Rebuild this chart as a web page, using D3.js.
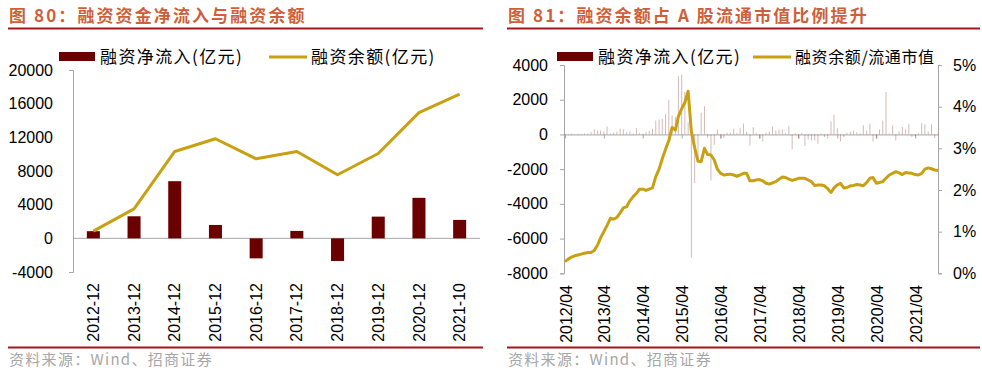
<!DOCTYPE html>
<html>
<head>
<meta charset="utf-8">
<script src="https://cdn.jsdelivr.net/npm/d3@7"></script>
<style>
  body { margin: 0; background: #fff; }
  text { font-family: "Liberation Sans", Arial, "Noto Sans CJK SC", sans-serif; }
  .cjk { font-family: "Noto Sans CJK SC", sans-serif; }
</style>
</head>
<body>
<div id="chart"></div>
<script>
// two panels side by side: annual net inflow vs balance, and monthly ratio to float cap
var width = 982,
    height = 372;

// ---- left panel data ----
var years = ["2012-12", "2013-12", "2014-12", "2015-12", "2016-12", "2017-12", "2018-12", "2019-12", "2020-12", "2021-10"];
var netInflow = [850, 2620, 6790, 1590, -2380, 880, -2690, 2580, 4810, 2190];
var balance = [850, 3500, 10320, 11830, 9450, 10320, 7550, 10080, 14930, 17140];
var leftTicks = [-4000, 0, 4000, 8000, 12000, 16000, 20000];

// ---- right panel data (monthly, 2012/04 .. 2021/11) ----
var monthStart = new Date(2012, 3, 1);
var monthlyInflow = [40, 30, 50, 20, 40, 30, 60, 50, 135, 290,
  230, 230, 170, 460, 60, 100, 170, 330, 290, 130,
  170, 60, 365, 80, 40, 130, 200, 320, 800, 860,
  900, 1190, 2000, 1100, 1000, 3350, 3450, 2450, 700, -7100,
  -2800, -1400, 1250, 1630, -200, -2650, -600, 290, -250, -210,
  100, 100, 330, 80, 365, 620, 150, -650, 420, 100,
  -250, -400, 100, 170, 460, 230, 290, 290, 80, 500,
  -860, 60, -250, 80, -670, -290, -350, -350, -540, 50,
  -150, -250, 750, 1130, 365, -400, -150, 100, 170, 230,
  135, 60, 520, 230, 620, -400, -250, 290, 800, 2440,
  60, 520, -350, 170, 420, 290, 620, -150, -100, 80,
  650, 580, 170, 580, -210, 60];
var ratio = [0.28, 0.34, 0.39, 0.42, 0.44, 0.46, 0.48, 0.50, 0.50, 0.55,
  0.68, 0.85, 1.00, 1.15, 1.32, 1.30, 1.34, 1.45, 1.57, 1.60,
  1.74, 1.84, 1.92, 2.02, 2.02, 1.99, 2.02, 2.05, 2.32, 2.50,
  2.75, 2.98, 3.18, 3.50, 3.44, 3.76, 3.95, 4.10, 4.37, 3.40,
  3.02, 2.69, 2.68, 3.00, 2.85, 2.84, 2.72, 2.50, 2.40, 2.36,
  2.37, 2.38, 2.36, 2.33, 2.36, 2.40, 2.40, 2.22, 2.22, 2.24,
  2.25, 2.22, 2.16, 2.14, 2.17, 2.20, 2.26, 2.31, 2.30, 2.26,
  2.23, 2.25, 2.28, 2.28, 2.28, 2.24, 2.20, 2.11, 2.12, 2.12,
  2.10, 2.03, 1.94, 2.05, 2.12, 2.16, 2.05, 2.06, 2.10, 2.11,
  2.13, 2.12, 2.10, 2.18, 2.28, 2.30, 2.16, 2.18, 2.20, 2.28,
  2.36, 2.40, 2.44, 2.41, 2.37, 2.42, 2.41, 2.40, 2.37, 2.36,
  2.40, 2.50, 2.53, 2.51, 2.48, 2.47];
var rightTicks = [-8000, -6000, -4000, -2000, 0, 2000, 4000];
var pctTicks = [0, 1, 2, 3, 4, 5];
var labelYears = [2012, 2013, 2014, 2015, 2016, 2017, 2018, 2019, 2020, 2021];

var months = monthlyInflow.map(function(d, i) { return d3.timeMonth.offset(monthStart, i); });

var barColor = "#6b0000",
    lineColor = "#c8a012",
    axisColor = "#a6a6a6",
    titleColor = "#cf5f3a",
    ruleColor = "#a3171c";

var svg = d3.select("#chart").append("svg")
    .attr("width", width)
    .attr("height", height);

// titles, rules and source lines shared by both panels
function frame(x0, x1, title) {
  svg.append("text")
      .attr("class", "cjk")
      .attr("x", x0 + 1)
      .attr("y", 22)
      .style("font-size", "17px")
      .style("font-weight", "bold")
      .style("letter-spacing", "2.1px")
      .attr("fill", titleColor)
      .text(title);
  svg.append("line")
      .attr("x1", x0).attr("x2", x1)
      .attr("y1", 28.5).attr("y2", 28.5)
      .attr("stroke", ruleColor).attr("stroke-width", 2);
  svg.append("line")
      .attr("x1", x0).attr("x2", x1)
      .attr("y1", 347.5).attr("y2", 347.5)
      .attr("stroke", ruleColor).attr("stroke-width", 2);
  svg.append("text")
      .attr("class", "cjk")
      .attr("x", x0 + 1)
      .attr("y", 365)
      .style("font-size", "15px")
      .style("letter-spacing", "1.3px")
      .attr("fill", "#a6a6a6")
      .text("资料来源：Wind、招商证券");
}

function legend(x, barLabel, lineX, lineLabel, lineSpacing) {
  svg.append("rect")
      .attr("x", x).attr("y", 52)
      .attr("width", 36).attr("height", 9)
      .attr("fill", barColor);
  svg.append("text")
      .attr("class", "cjk")
      .attr("x", x + 41).attr("y", 57)
      .attr("dy", "0.35em")
      .style("font-size", "17px")
      .style("letter-spacing", "1.4px")
      .text(barLabel);
  svg.append("line")
      .attr("x1", lineX).attr("x2", lineX + 38)
      .attr("y1", 57).attr("y2", 57)
      .attr("stroke", lineColor).attr("stroke-width", 3);
  svg.append("text")
      .attr("class", "cjk")
      .attr("x", lineX + 42).attr("y", 57)
      .attr("dy", "0.35em")
      .style("font-size", lineSpacing ? "16px" : "17px")
      .style("letter-spacing", (lineSpacing || 1.4) + "px")
      .text(lineLabel);
}

function styleAxis(g) {
  g.selectAll("path, line").attr("stroke", axisColor);
  g.selectAll("text").style("font-size", "16px").attr("fill", "#000");
}

// ================= left panel =================
frame(8, 483, "图 80：融资资金净流入与融资余额");
legend(59, "融资净流入(亿元)", 269, "融资余额(亿元)");

var x1 = d3.scaleBand()
    .domain(years)
    .range([73, 480])
    .paddingInner(0.68)
    .paddingOuter(0.34);

var y1 = d3.scaleLinear()
    .domain([-4000, 20000])
    .range([272, 70]);

var left = svg.append("g");

left.append("g")
    .attr("transform", "translate(73,0)")
    .call(d3.axisLeft(y1).tickValues(leftTicks).tickSizeInner(0).tickSizeOuter(4).tickPadding(20)
      .tickFormat(function(d) { return String(d); }))
    .call(styleAxis);

left.append("line")
    .attr("x1", 73).attr("x2", 480)
    .attr("y1", y1(0)).attr("y2", y1(0))
    .attr("stroke", axisColor);

left.selectAll(".bar")
    .data(years)
    .enter()
    .append("rect")
    .attr("x", function(d) { return x1(d); })
    .attr("width", x1.bandwidth())
    .attr("y", function(d, i) { return y1(Math.max(0, netInflow[i])); })
    .attr("height", function(d, i) { return Math.abs(y1(netInflow[i]) - y1(0)); })
    .attr("fill", barColor);

left.append("path")
    .datum(balance)
    .attr("fill", "none")
    .attr("stroke", lineColor)
    .attr("stroke-width", 3)
    .attr("stroke-linejoin", "round")
    .attr("d", d3.line()
      .x(function(d, i) { return x1(years[i]) + x1.bandwidth() / 2; })
      .y(function(d) { return y1(d); }));

left.selectAll(".xlab")
    .data(years)
    .enter()
    .append("text")
    .attr("transform", function(d) { return "translate(" + (x1(d) + x1.bandwidth() / 2) + ",283) rotate(-90)"; })
    .attr("text-anchor", "end")
    .attr("dy", "0.35em")
    .style("font-size", "16px")
    .text(function(d) { return d; });

// ================= right panel =================
frame(507, 980, "图 81：融资余额占 A 股流通市值比例提升");
legend(557, "融资净流入(亿元)", 753, "融资余额/流通市值", 0.6);

var x2 = d3.scaleTime()
    .domain([months[0], months[months.length - 1]])
    .range([565, 938]);

var y2 = d3.scaleLinear()
    .domain([-8000, 4000])
    .range([273.3, 65]);

var y3 = d3.scaleLinear()
    .domain([0, 5])
    .range([273.3, 65]);

var right = svg.append("g");

right.append("g")
    .attr("transform", "translate(564,0)")
    .call(d3.axisLeft(y2).tickValues(rightTicks).tickSizeInner(4).tickSizeOuter(4).tickPadding(12)
      .tickFormat(function(d) { return String(d); }))
    .call(styleAxis);

right.append("g")
    .attr("transform", "translate(938,0)")
    .call(d3.axisRight(y3).tickValues(pctTicks).tickSizeInner(4).tickSizeOuter(4).tickPadding(11)
      .tickFormat(function(d) { return d + "%"; }))
    .call(styleAxis);

var tickDates = labelYears.map(function(yr) { return new Date(yr, 3, 1); });

// zero line with yearly ticks
var zeroAxis = right.append("g")
    .attr("transform", "translate(0," + y2(0) + ")")
    .call(d3.axisBottom(x2).tickValues(tickDates).tickSizeInner(4).tickSizeOuter(0).tickFormat(""))
    .call(styleAxis);
zeroAxis.select(".domain").attr("d", "M564,0.5H938");

right.selectAll(".mbar")
    .data(monthlyInflow)
    .enter()
    .append("rect")
    .attr("x", function(d, i) { return x2(months[i]) - 0.5; })
    .attr("width", 1)
    .attr("y", function(d) { return y2(Math.max(0, d)); })
    .attr("height", function(d) { return Math.abs(y2(d) - y2(0)); })
    .attr("fill", barColor)
    .attr("opacity", 0.28);

right.append("path")
    .datum(ratio)
    .attr("fill", "none")
    .attr("stroke", lineColor)
    .attr("stroke-width", 3)
    .attr("stroke-linejoin", "round")
    .attr("d", d3.line()
      .x(function(d, i) { return x2(months[i]); })
      .y(function(d) { return y3(d); }));

right.selectAll(".xlab")
    .data(tickDates)
    .enter()
    .append("text")
    .attr("transform", function(d) { return "translate(" + (x2(d) + 1) + ",285) rotate(-90)"; })
    .attr("text-anchor", "end")
    .attr("dy", "0.35em")
    .style("font-size", "16px")
    .text(d3.timeFormat("%Y/%m"));
</script>
</body>
</html>
